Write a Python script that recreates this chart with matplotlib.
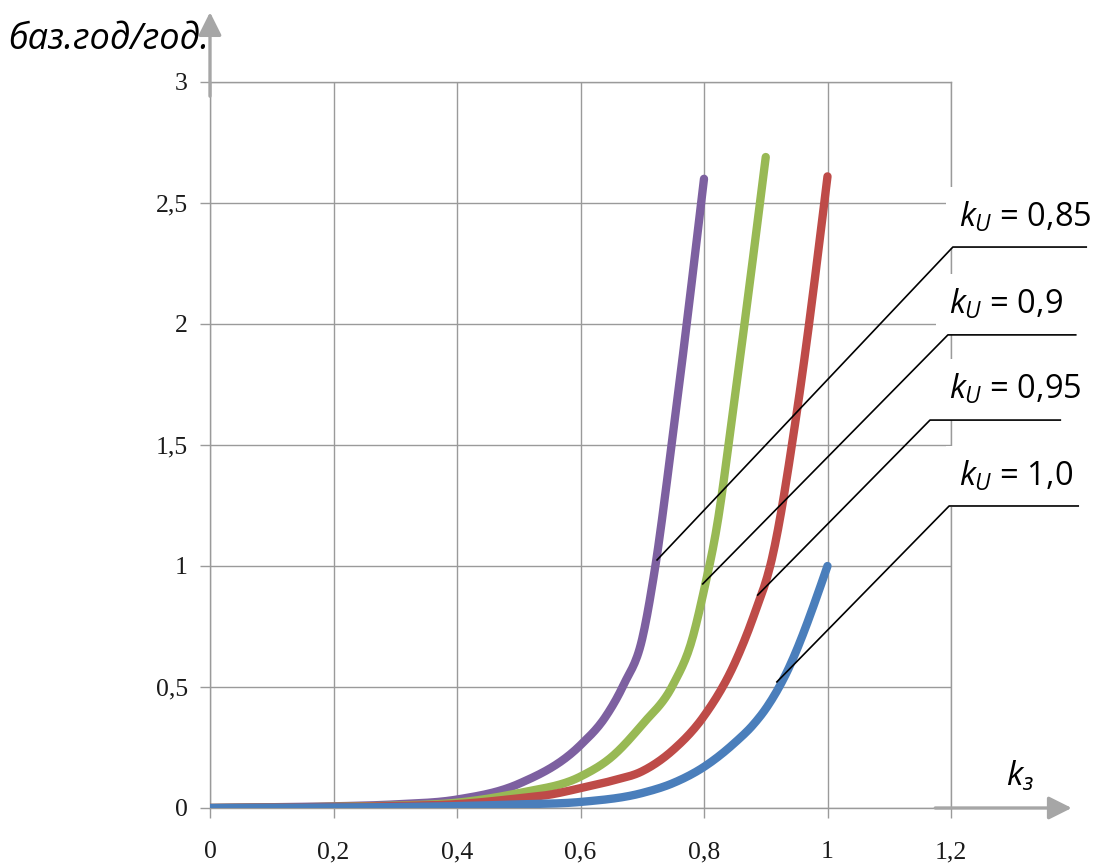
import numpy as np
import matplotlib
matplotlib.use("Agg")
import matplotlib.pyplot as plt
from matplotlib.patches import FancyArrowPatch

plt.rcParams['font.family'] = ['Open Sans', 'DejaVu Sans']
plt.rcParams['mathtext.fontset'] = 'custom'
plt.rcParams['mathtext.it'] = 'Open Sans:italic'
plt.rcParams['mathtext.rm'] = 'Open Sans'

# коэффициент загрузки kз и отношение баз.год/год. для разных kU
kz_085 = [0, 0.1, 0.2, 0.3, 0.4, 0.5, 0.6, 0.64, 0.67, 0.7, 0.72, 0.75, 0.8]
val_085 = [0, 0.003, 0.007, 0.015, 0.035, 0.1, 0.26, 0.375, 0.51, 0.7, 0.98, 1.55, 2.6]

kz_090 = [0, 0.1, 0.2, 0.3, 0.4, 0.5, 0.6, 0.65, 0.7, 0.75, 0.78, 0.8, 0.82, 0.85, 0.9]
val_090 = [0, 0.002, 0.005, 0.01, 0.022, 0.062, 0.13, 0.21, 0.345, 0.51, 0.69, 0.9, 1.15, 1.7, 2.69]

kz_095 = [0, 0.1, 0.2, 0.3, 0.4, 0.5, 0.55, 0.6, 0.65, 0.7, 0.75, 0.8, 0.85, 0.88, 0.91, 0.95, 1.0]
val_095 = [0, 0.002, 0.004, 0.008, 0.016, 0.04, 0.055, 0.082, 0.112, 0.152, 0.24, 0.38, 0.6, 0.79, 1.03, 1.63, 2.61]

kz_100 = [0, 0.1, 0.2, 0.3, 0.4, 0.5, 0.6, 0.7, 0.75, 0.8, 0.85, 0.88, 0.9, 0.93, 1.0]
val_100 = [0, 0.001, 0.002, 0.004, 0.008, 0.015, 0.025, 0.062, 0.103, 0.17, 0.27, 0.345, 0.41, 0.54, 1.0]

series_colors = ['#7D60A0', '#98B954', '#BE4B48', '#4A7EBB']
series_labels = ['0,85', '0,9', '0,95', '1,0']

x_ticks = [0, 0.2, 0.4, 0.6, 0.8, 1.0, 1.2]
x_ticklabels = ['0', '0,2', '0,4', '0,6', '0,8', '1', '1,2']
y_ticks = [0, 0.5, 1.0, 1.5, 2.0, 2.5, 3.0]
y_ticklabels = ['0', '0,5', '1', '1,5', '2', '2,5', '3']


def smooth(x, y, n=400):
    # кубический эрмитов сплайн с касательными Бесселя
    x = np.asarray(x, float)
    y = np.asarray(y, float)
    h = np.diff(x)
    d = np.diff(y) / h
    m = np.empty_like(y)
    m[1:-1] = (h[1:] * d[:-1] + h[:-1] * d[1:]) / (h[:-1] + h[1:])
    m[0] = d[0]
    m[-1] = d[-1] + (d[-1] - m[-2]) * 0.5
    xs = np.linspace(x[0], x[-1], n)
    i = np.clip(np.searchsorted(x, xs) - 1, 0, len(x) - 2)
    t = (xs - x[i]) / h[i]
    ys = ((2 * t**3 - 3 * t**2 + 1) * y[i] + (t**3 - 2 * t**2 + t) * h[i] * m[i]
          + (-2 * t**3 + 3 * t**2) * y[i + 1] + (t**3 - t**2) * h[i] * m[i + 1])
    return xs, ys


fig = plt.figure(figsize=(11.08, 8.66), dpi=100)
ax = fig.add_axes([210 / 1108, 1 - 808 / 866, 741 / 1108, 726 / 866])

grid_c = '#9a9a9a'
ax.set_xlim(0, 1.2)
ax.set_ylim(0, 3)
ax.set_xticks(x_ticks)
ax.set_xticklabels(x_ticklabels)
ax.set_yticks(y_ticks)
ax.set_yticklabels(y_ticklabels)
ax.grid(True, color=grid_c, lw=1.0, zorder=0)
ax.set_axisbelow(True)
for s in ax.spines.values():
    s.set_color(grid_c)
    s.set_linewidth(1.0)
ax.tick_params(axis='both', color=grid_c, length=7, width=1.0,
               labelsize=18.5, labelcolor='#1a1a1a')
ax.tick_params(axis='x', pad=17)
ax.tick_params(axis='y', pad=9)
for lab in ax.get_xticklabels() + ax.get_yticklabels():
    lab.set_family(['Liberation Serif', 'DejaVu Serif'])

all_data = [(kz_085, val_085), (kz_090, val_090), (kz_095, val_095), (kz_100, val_100)]
for (xs, ys), col in zip(all_data, series_colors):
    sx, sy = smooth(xs, ys)
    ax.plot(sx, sy, color=col, lw=6.0, solid_capstyle='round', zorder=3)

# выноски с подписями kU
leaders = [
    ((0.724, 1.025), (1.203, 2.318), 1.419, (1.213, 2.44)),
    ((0.798, 0.926), (1.195, 1.955), 1.402, (1.197, 2.08)),
    ((0.887, 0.880), (1.166, 1.603), 1.377, (1.197, 1.73)),
    ((0.918, 0.521), (1.197, 1.248), 1.406, (1.213, 1.37)),
]
for (p0, p1, xend, tpos), lab in zip(leaders, series_labels):
    ax.plot([p0[0], p1[0], xend], [p0[1], p1[1], p1[1]], color='black',
            lw=1.2, clip_on=False, zorder=6)
    ax.text(tpos[0], tpos[1], r'$k_U$' + ' = ' + lab, fontsize=23.5,
            ha='left', va='center', clip_on=False, zorder=5,
            bbox=dict(boxstyle='square,pad=0.4', fc='white', ec='none'))

# стрелки осей
arrow_c = '#a6a6a6'
ax.add_patch(FancyArrowPatch((0, 2.93), (0, 3.30), arrowstyle='-|>,head_length=0.7,head_width=0.35',
                             mutation_scale=20, color=arrow_c, lw=2.4, clip_on=False, zorder=4))
ax.add_patch(FancyArrowPatch((1.17, 0), (1.40, 0), arrowstyle='-|>,head_length=0.7,head_width=0.35',
                             mutation_scale=20, color=arrow_c, lw=2.4, clip_on=False, zorder=4))

ax.text(1.312, 0.13, r'$k_з$', fontsize=24, ha='center', va='center', clip_on=False)
fig.text(8 / 1108, 1 - 40 / 866, 'баз.год/год.', fontsize=26, style='italic',
         ha='left', va='center')

fig.savefig('out.png', dpi=100)
